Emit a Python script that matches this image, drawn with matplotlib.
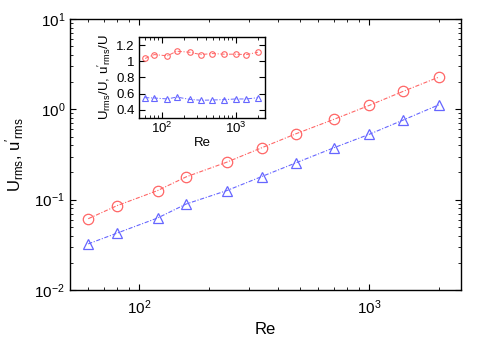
import numpy as np
import matplotlib.pyplot as plt
from matplotlib.ticker import LogLocator, FixedLocator, FuncFormatter, NullFormatter

plt.rcParams['font.family'] = ['Liberation Sans', 'DejaVu Sans']
plt.rcParams['mathtext.default'] = 'regular'
plt.rcParams['lines.scale_dashes'] = False

# 数据
re = [60, 80, 120, 160, 240, 340, 480, 700, 1000, 1400, 2000]
u_rms = [0.0615, 0.0858, 0.126, 0.179, 0.26, 0.375, 0.537, 0.774, 1.107, 1.58, 2.27]
u_prime = [0.0324, 0.0426, 0.0626, 0.0896, 0.126, 0.18, 0.256, 0.375, 0.53, 0.76, 1.12]
ratio_u = [1.037, 1.085, 1.07, 1.127, 1.114, 1.085, 1.098, 1.09, 1.09, 1.085, 1.114]
ratio_up = [0.549, 0.545, 0.533, 0.557, 0.528, 0.517, 0.52, 0.525, 0.533, 0.533, 0.549]

red = '#ff6666'
blue = '#6666ff'
dash = (0, (3.0, 1.2, 0.8, 1.2))


def pow_fmt(v, pos):
    e = int(round(np.log10(v)))
    return r'$10^{%d}$' % e


def style_log(ax, size):
    ax.set_xscale('log')
    ax.tick_params(which='both', direction='in', top=True, right=True, labelsize=size)
    ax.tick_params(which='major', length=4, width=0.8)
    ax.tick_params(which='minor', length=2, width=0.6)
    for s in ax.spines.values():
        s.set_linewidth(1.0)


fig = plt.figure(figsize=(4.91, 3.43), dpi=100)

# 主图
ax = fig.add_axes([70 / 491, 53 / 343, 391 / 491, 271 / 343])
style_log(ax, 11)
ax.set_yscale('log')
ax.plot(re, u_rms, linestyle=dash, color=red, lw=0.8, marker='o', ms=7.5,
        mfc='none', mec=red, mew=0.9)
ax.plot(re, u_prime, linestyle=dash, color=blue, lw=0.8, marker='^', ms=7.5,
        mfc='none', mec=blue, mew=0.9)
ax.set_xlim(50, 2500)
ax.set_ylim(1e-2, 1e1)
ax.xaxis.set_major_locator(FixedLocator([100, 1000]))
ax.xaxis.set_minor_locator(LogLocator(base=10, subs=np.arange(2, 10)))
ax.yaxis.set_minor_locator(LogLocator(base=10, subs=np.arange(2, 10)))
ax.xaxis.set_major_formatter(FuncFormatter(pow_fmt))
ax.yaxis.set_major_formatter(FuncFormatter(pow_fmt))
ax.xaxis.set_minor_formatter(NullFormatter())
ax.yaxis.set_minor_formatter(NullFormatter())
ax.tick_params(axis='x', pad=6)
ax.set_xlabel('Re', fontsize=12, labelpad=4)
ax.set_ylabel(r"$U_{rms}$, $u'_{rms}$", fontsize=12, labelpad=6)

# 插图
ins = fig.add_axes([139.3 / 491, (343 - 117.7) / 343, 125.7 / 491, 80.4 / 343])
style_log(ins, 9.5)
ins.plot(re, ratio_u, linestyle=dash, color=red, lw=0.7, marker='o', ms=4,
         mfc='none', mec=red, mew=0.8)
ins.plot(re, ratio_up, linestyle=dash, color=blue, lw=0.7, marker='^', ms=4,
         mfc='none', mec=blue, mew=0.8)
ins.set_xlim(50, 2500)
ins.set_ylim(0.3, 1.3)
ins.set_yticks([0.4, 0.6, 0.8, 1.0, 1.2])
ins.set_yticklabels(['0.4', '0.6', '0.8', '1', '1.2'])
ins.xaxis.set_major_locator(FixedLocator([100, 1000]))
ins.xaxis.set_minor_locator(LogLocator(base=10, subs=np.arange(2, 10)))
ins.xaxis.set_major_formatter(FuncFormatter(pow_fmt))
ins.xaxis.set_minor_formatter(NullFormatter())
ins.tick_params(axis='x', pad=2)
ins.set_xlabel('Re', fontsize=9.5, labelpad=1)
ins.set_ylabel(r"$U_{rms}/U$, $u'_{rms}/U$", fontsize=9.5, labelpad=2)

fig.savefig('out.png', dpi=100)
